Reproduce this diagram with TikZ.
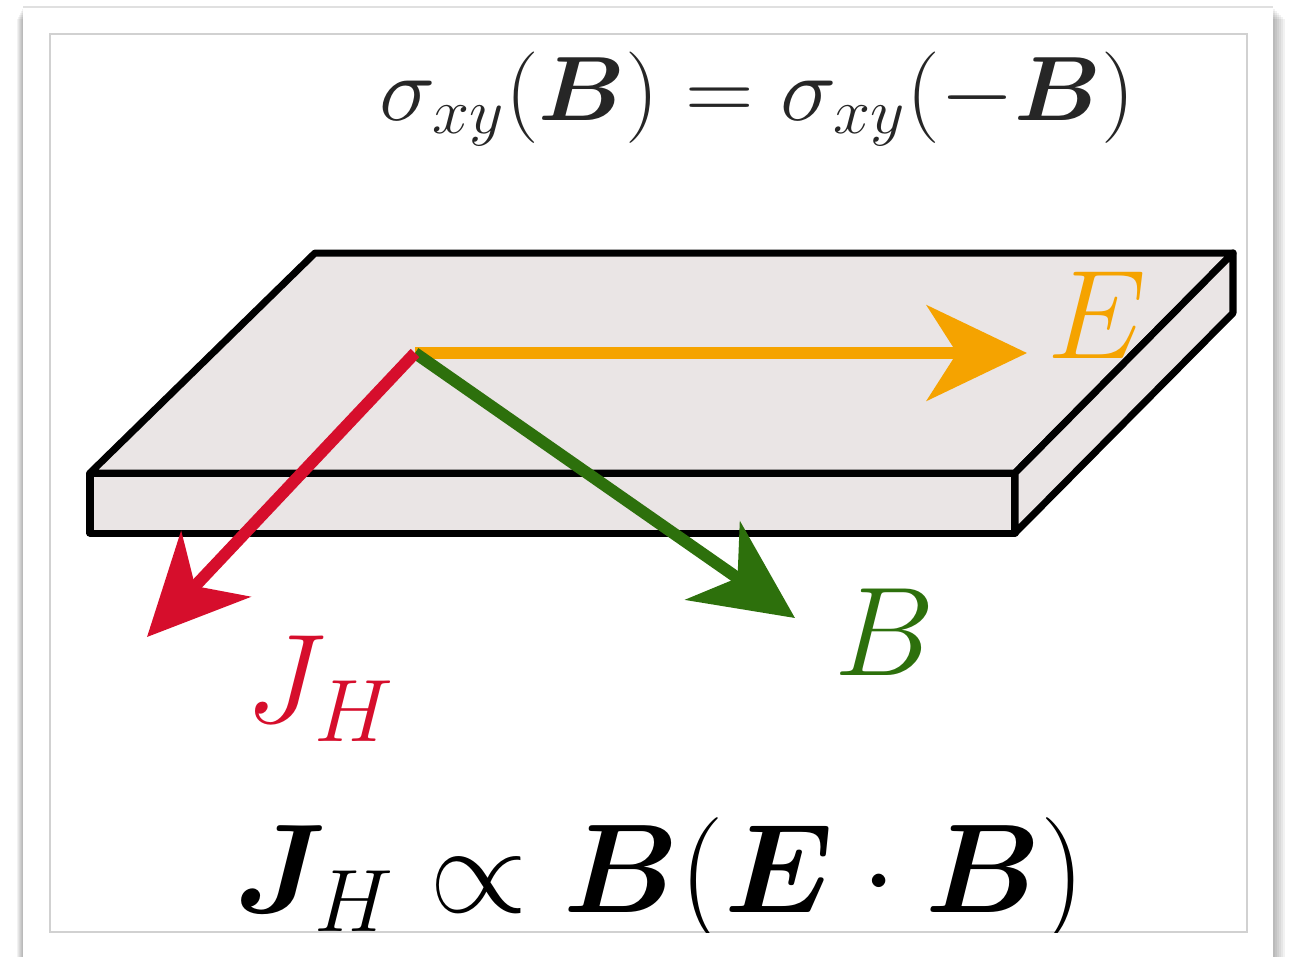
\RequirePackage{fix-cm}
\documentclass[tikz,border=0pt]{standalone}
\usepackage{amsmath,bm}
\usepackage{xcolor}
\usetikzlibrary{arrows.meta}
\definecolor{slabfill}{RGB}{234,229,229}
\definecolor{efield}{RGB}{245,163,0}
\definecolor{bfield}{RGB}{45,112,12}
\definecolor{jhall}{RGB}{214,14,44}

\begin{document}
\begin{tikzpicture}[x=0.01cm, y=-0.01cm, >={Stealth[length=1cm, width=0.95cm, inset=0.3cm]},
  slab/.style={draw=black, fill=slabfill, line width=2pt, line join=round},
  field/.style={->, line width=3.4pt},
  lab/.style={inner sep=0pt, font=\fontsize{36}{40}\selectfont}]
% 1 unit = 1 pixel of the 1290x956 frame, y pointing down
\useasboundingbox (0,0) rectangle (1290,956);
% card and its shadow
\foreach \s in {1,...,6} {\fill[black, opacity=0.05] (23-\s,7+2*\s) rectangle (1273+2*\s,970);}
\fill[white] (23,7) rectangle (1273,970);
\draw[black!12, line width=0.4pt] (23,7) -- (1273,7);
\draw[black!18, line width=0.6pt] (50,34) rectangle (1247,932);
% the slab
\coordinate (bl) at (315,253);
\coordinate (br) at (1233,253);
\coordinate (fr) at (1015,473);
\coordinate (fl) at (90,473);
\coordinate (br2) at (1233,313);
\coordinate (fr2) at (1015,533);
\coordinate (fl2) at (90,533);
\path[slab] (fl) -- (bl) -- (br) -- (fr) -- cycle;
\path[slab] (fl) -- (fr) -- (fr2) -- (fl2) -- cycle;
\path[slab] (fr) -- (br) -- (br2) -- (fr2) -- cycle;
% fields from one point on the top face
\coordinate (o) at (415,353);
\coordinate (etip) at (1027,353);
\coordinate (btip) at (795,618);
\coordinate (jtip) at (147,637);
\draw[field, efield] (o) -- (etip);
\draw[field, bfield] (o) -- (btip);
\draw[field, jhall] (o) -- (jtip);
\node[lab, text=efield] (elab) at (1097,315) {$E$};
\node[lab, text=bfield] (blab) at (885,632) {$B$};
\node[lab, text=jhall, anchor=base west] (jlab) at (245,722) {$J_H$};
% relations
\node[anchor=base, inner sep=0pt, xscale=1.04, text=black!85, font=\fontsize{26}{30}\selectfont] (sym) at (757,120) {$\sigma_{xy}(\bm{B}) = \sigma_{xy}(-\bm{B})$};
\begin{scope}
\clip (50,34) rectangle (1247,932);
\node[anchor=base, inner sep=0pt, font=\fontsize{36}{40}\selectfont] (law) at (660,912) {$\bm{J}_H \propto \bm{B}(\bm{E}\cdot\bm{B})$};
\end{scope}
\end{tikzpicture}
\end{document}
